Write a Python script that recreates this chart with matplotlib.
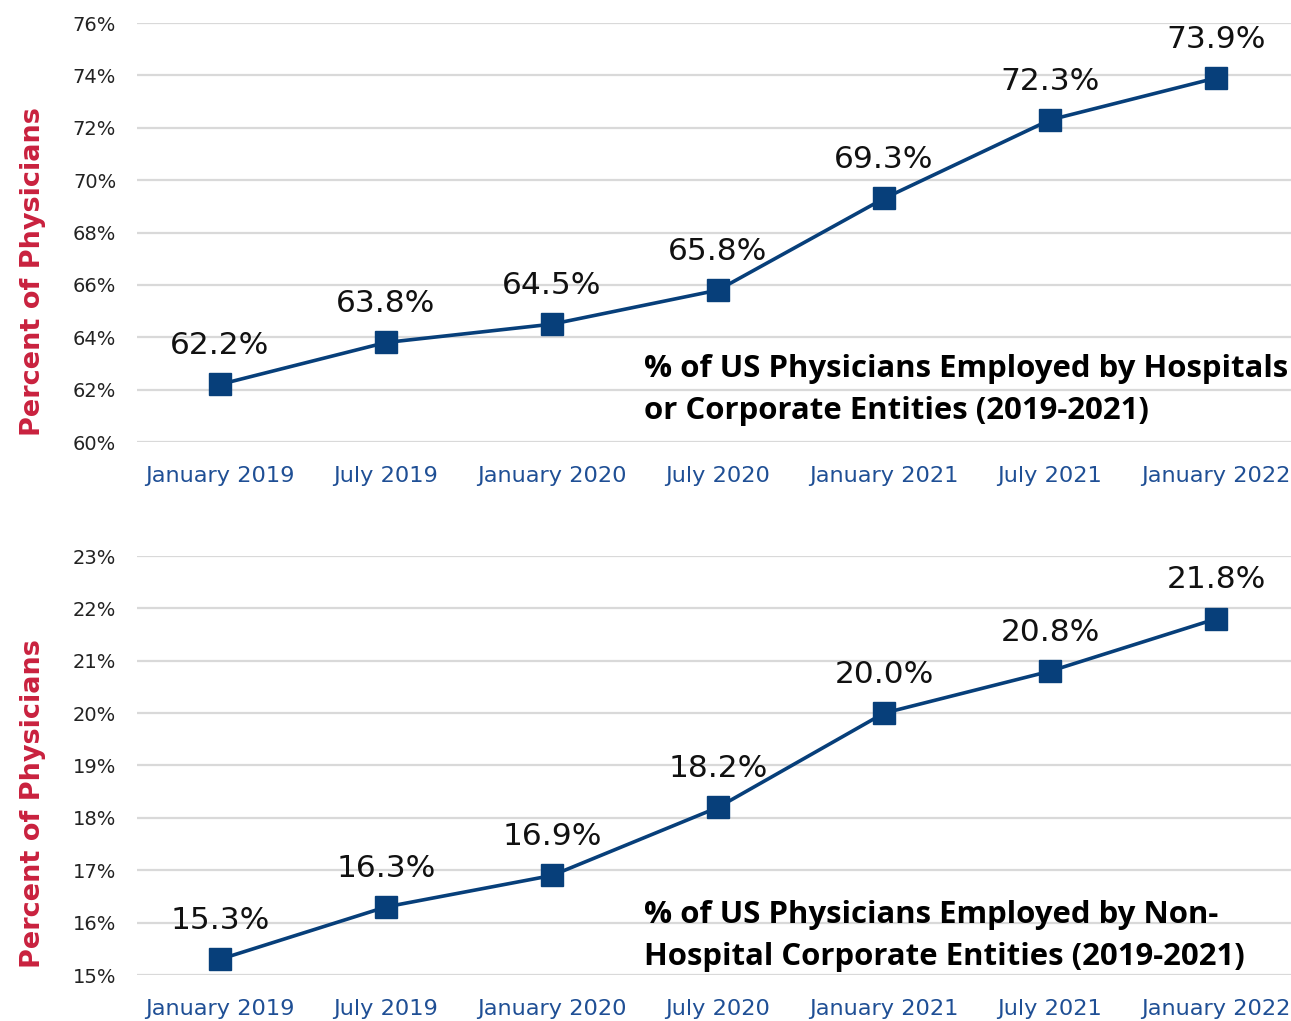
import numpy as np
from matplotlib import pyplot as plt

periods = ["January 2019", "July 2019", "January 2020", "July 2020",
           "January 2021", "July 2021", "January 2022"]
hospital_pct = [62.2, 63.8, 64.5, 65.8, 69.3, 72.3, 73.9]
nonhospital_pct = [15.3, 16.3, 16.9, 18.2, 20.0, 20.8, 21.8]
hospital_ticks = [60, 62, 64, 66, 68, 70, 72, 74, 76]
nonhospital_ticks = [15, 16, 17, 18, 19, 20, 21, 22, 23]
hospital_title = "% of US Physicians Employed by Hospitals\nor Corporate Entities (2019-2021)"
nonhospital_title = "% of US Physicians Employed by Non-\nHospital Corporate Entities (2019-2021)"

W, H = 1291, 1021
navy = "#073f7a"
red = "#c9213e"
tickblue = "#1f4f95"


def draw_panel(ax, values, ticks, title, title_y, label_y):
    x = np.arange(len(values))
    ax.plot(x, values, color=navy, linewidth=2.6, marker="s", markersize=16,
            markerfacecolor=navy, markeredgecolor=navy, solid_joinstyle="round")
    for xi, v in zip(x, values):
        ax.annotate(f"{v:.1f}%", (xi, v), textcoords="offset points", xytext=(0, 28),
                    ha="center", va="center", fontsize=22.5, color="#111111")
    ax.set_xlim(-0.5, len(values) - 0.5)
    ax.set_ylim(ticks[0], ticks[-1])
    ax.set_yticks(ticks)
    ax.set_yticklabels([f"{t}%" for t in ticks], fontsize=14, color="#222222")
    ax.set_xticks(x)
    ax.set_xticklabels(periods, fontsize=16.2, color=tickblue)
    ax.tick_params(length=0)
    ax.tick_params(axis="y", pad=15)
    ax.tick_params(axis="x", pad=17)
    ax.grid(axis="y", color="#d9d9d9", linewidth=1.6)
    ax.set_axisbelow(True)
    for s in ax.spines.values():
        s.set_visible(False)
    fig = ax.figure
    fig.text(33 / W, 1 - label_y / H, "Percent of Physicians", rotation=90,
             ha="center", va="center", fontsize=19.5, fontweight="bold", color=red)
    fig.text(644 / W, 1 - title_y / H, title, ha="left", va="center",
             fontsize=22.4, fontweight="bold", family="Open Sans",
             linespacing=1.55, color="black")


fig = plt.figure(figsize=(W / 100, H / 100), dpi=100)
left = 137 / W
width = 1162 / W
ax1 = fig.add_axes([left, 1 - 442 / H, width, 419 / H])
ax2 = fig.add_axes([left, 1 - 975 / H, width, 419 / H])

draw_panel(ax1, hospital_pct, hospital_ticks, hospital_title, 390, 272)
draw_panel(ax2, nonhospital_pct, nonhospital_ticks, nonhospital_title, 936, 804)

fig.savefig("out.png", dpi=100)
